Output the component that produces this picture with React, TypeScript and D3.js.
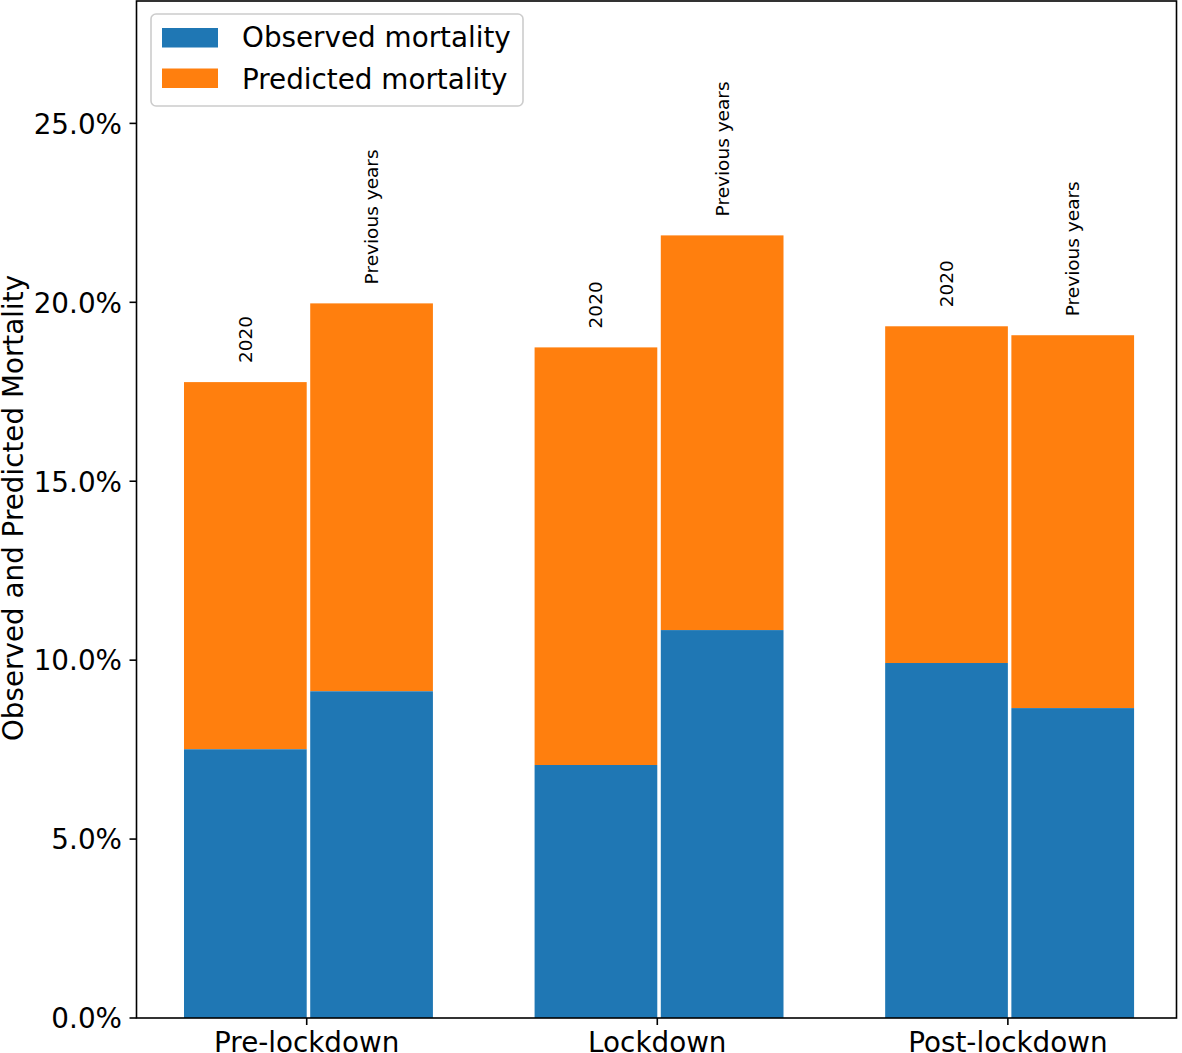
import * as d3 from "d3";

const periods = ["Pre-lockdown", "Lockdown", "Post-lockdown"];
const barLabels = ["2020", "Previous years"];
// observed mortality (%) per period: [2020, previous years]
const observed2020 = [7.51, 7.07, 9.92];
const observedPrev = [9.13, 10.84, 8.66];
// total height (observed + predicted) as drawn
const total2020 = [17.77, 18.74, 19.33];
const totalPrev = [19.97, 21.87, 19.08];
const yTicks = [0, 5, 10, 15, 20, 25];

const W = 1182;
const H = 1053;
const left = 136.5;
const right = 1176.5;
const top = 1;
const bottom = 1018;
const font = "DejaVu Sans, sans-serif";
const blue = "#1f77b4";
const orange = "#ff7f0e";

export default function App() {
  const x = d3.scaleLinear().domain([-0.4855, 2.481]).range([left, right]);
  const y = d3.scaleLinear().domain([0, 28.42]).range([bottom, top]);
  const bw = x(0.35) - x(0);

  const bars = periods.flatMap((p, i) => [
    { key: `${p}-a`, x0: x(i - 0.35), obs: observed2020[i], tot: total2020[i], label: barLabels[0] },
    { key: `${p}-b`, x0: x(i + 0.01), obs: observedPrev[i], tot: totalPrev[i], label: barLabels[1] },
  ]);

  return (
    <svg width={W} height={H} style={{ position: "absolute", left: 0, top: 0, background: "white" }} fontFamily={font}>
      {bars.map(b => (
        <g key={b.key}>
          <rect x={b.x0} width={bw} y={y(b.tot)} height={y(b.obs) - y(b.tot)} fill={orange} />
          <rect x={b.x0} width={bw} y={y(b.obs)} height={bottom - y(b.obs)} fill={blue} />
          <text
            transform={`translate(${b.x0 + bw / 2}, ${y(b.tot) - 19}) rotate(-90)`}
            dy="0.35em"
            fontSize={18.5}
            textAnchor="start"
          >{b.label}</text>
        </g>
      ))}

      {/* spines */}
      <rect x={left} y={top} width={right - left} height={bottom - top} fill="none" stroke="black" strokeWidth={1.6} />

      {/* y axis */}
      {yTicks.map(t => (
        <g key={t} transform={`translate(0, ${y(t)})`}>
          <line x1={left - 7} x2={left} stroke="black" strokeWidth={1.6} />
          <text x={left - 14.5} dy={10.3} textAnchor="end" fontSize={27.8}>{t.toFixed(1)}%</text>
        </g>
      ))}
      <text transform={`translate(23, 508) rotate(-90)`} textAnchor="middle" fontSize={27.8}>
        Observed and Predicted Mortality
      </text>

      {/* x axis */}
      {periods.map((p, i) => (
        <g key={p} transform={`translate(${x(i)}, ${bottom})`}>
          <line y1={0} y2={7} stroke="black" strokeWidth={1.6} />
          <text y={34} textAnchor="middle" fontSize={27.8}>{p}</text>
        </g>
      ))}

      {/* legend */}
      <g>
        <rect x={151} y={14} width={372} height={92} rx={5} fill="white" fillOpacity={0.8} stroke="#cccccc" strokeWidth={1.6} />
        <rect x={162} y={28} width={56} height={19.5} fill={blue} />
        <rect x={162} y={68.5} width={56} height={19.5} fill={orange} />
        <text x={242} y={46.7} fontSize={27.8}>Observed mortality</text>
        <text x={242} y={89} fontSize={27.8}>Predicted mortality</text>
      </g>
    </svg>
  );
}
